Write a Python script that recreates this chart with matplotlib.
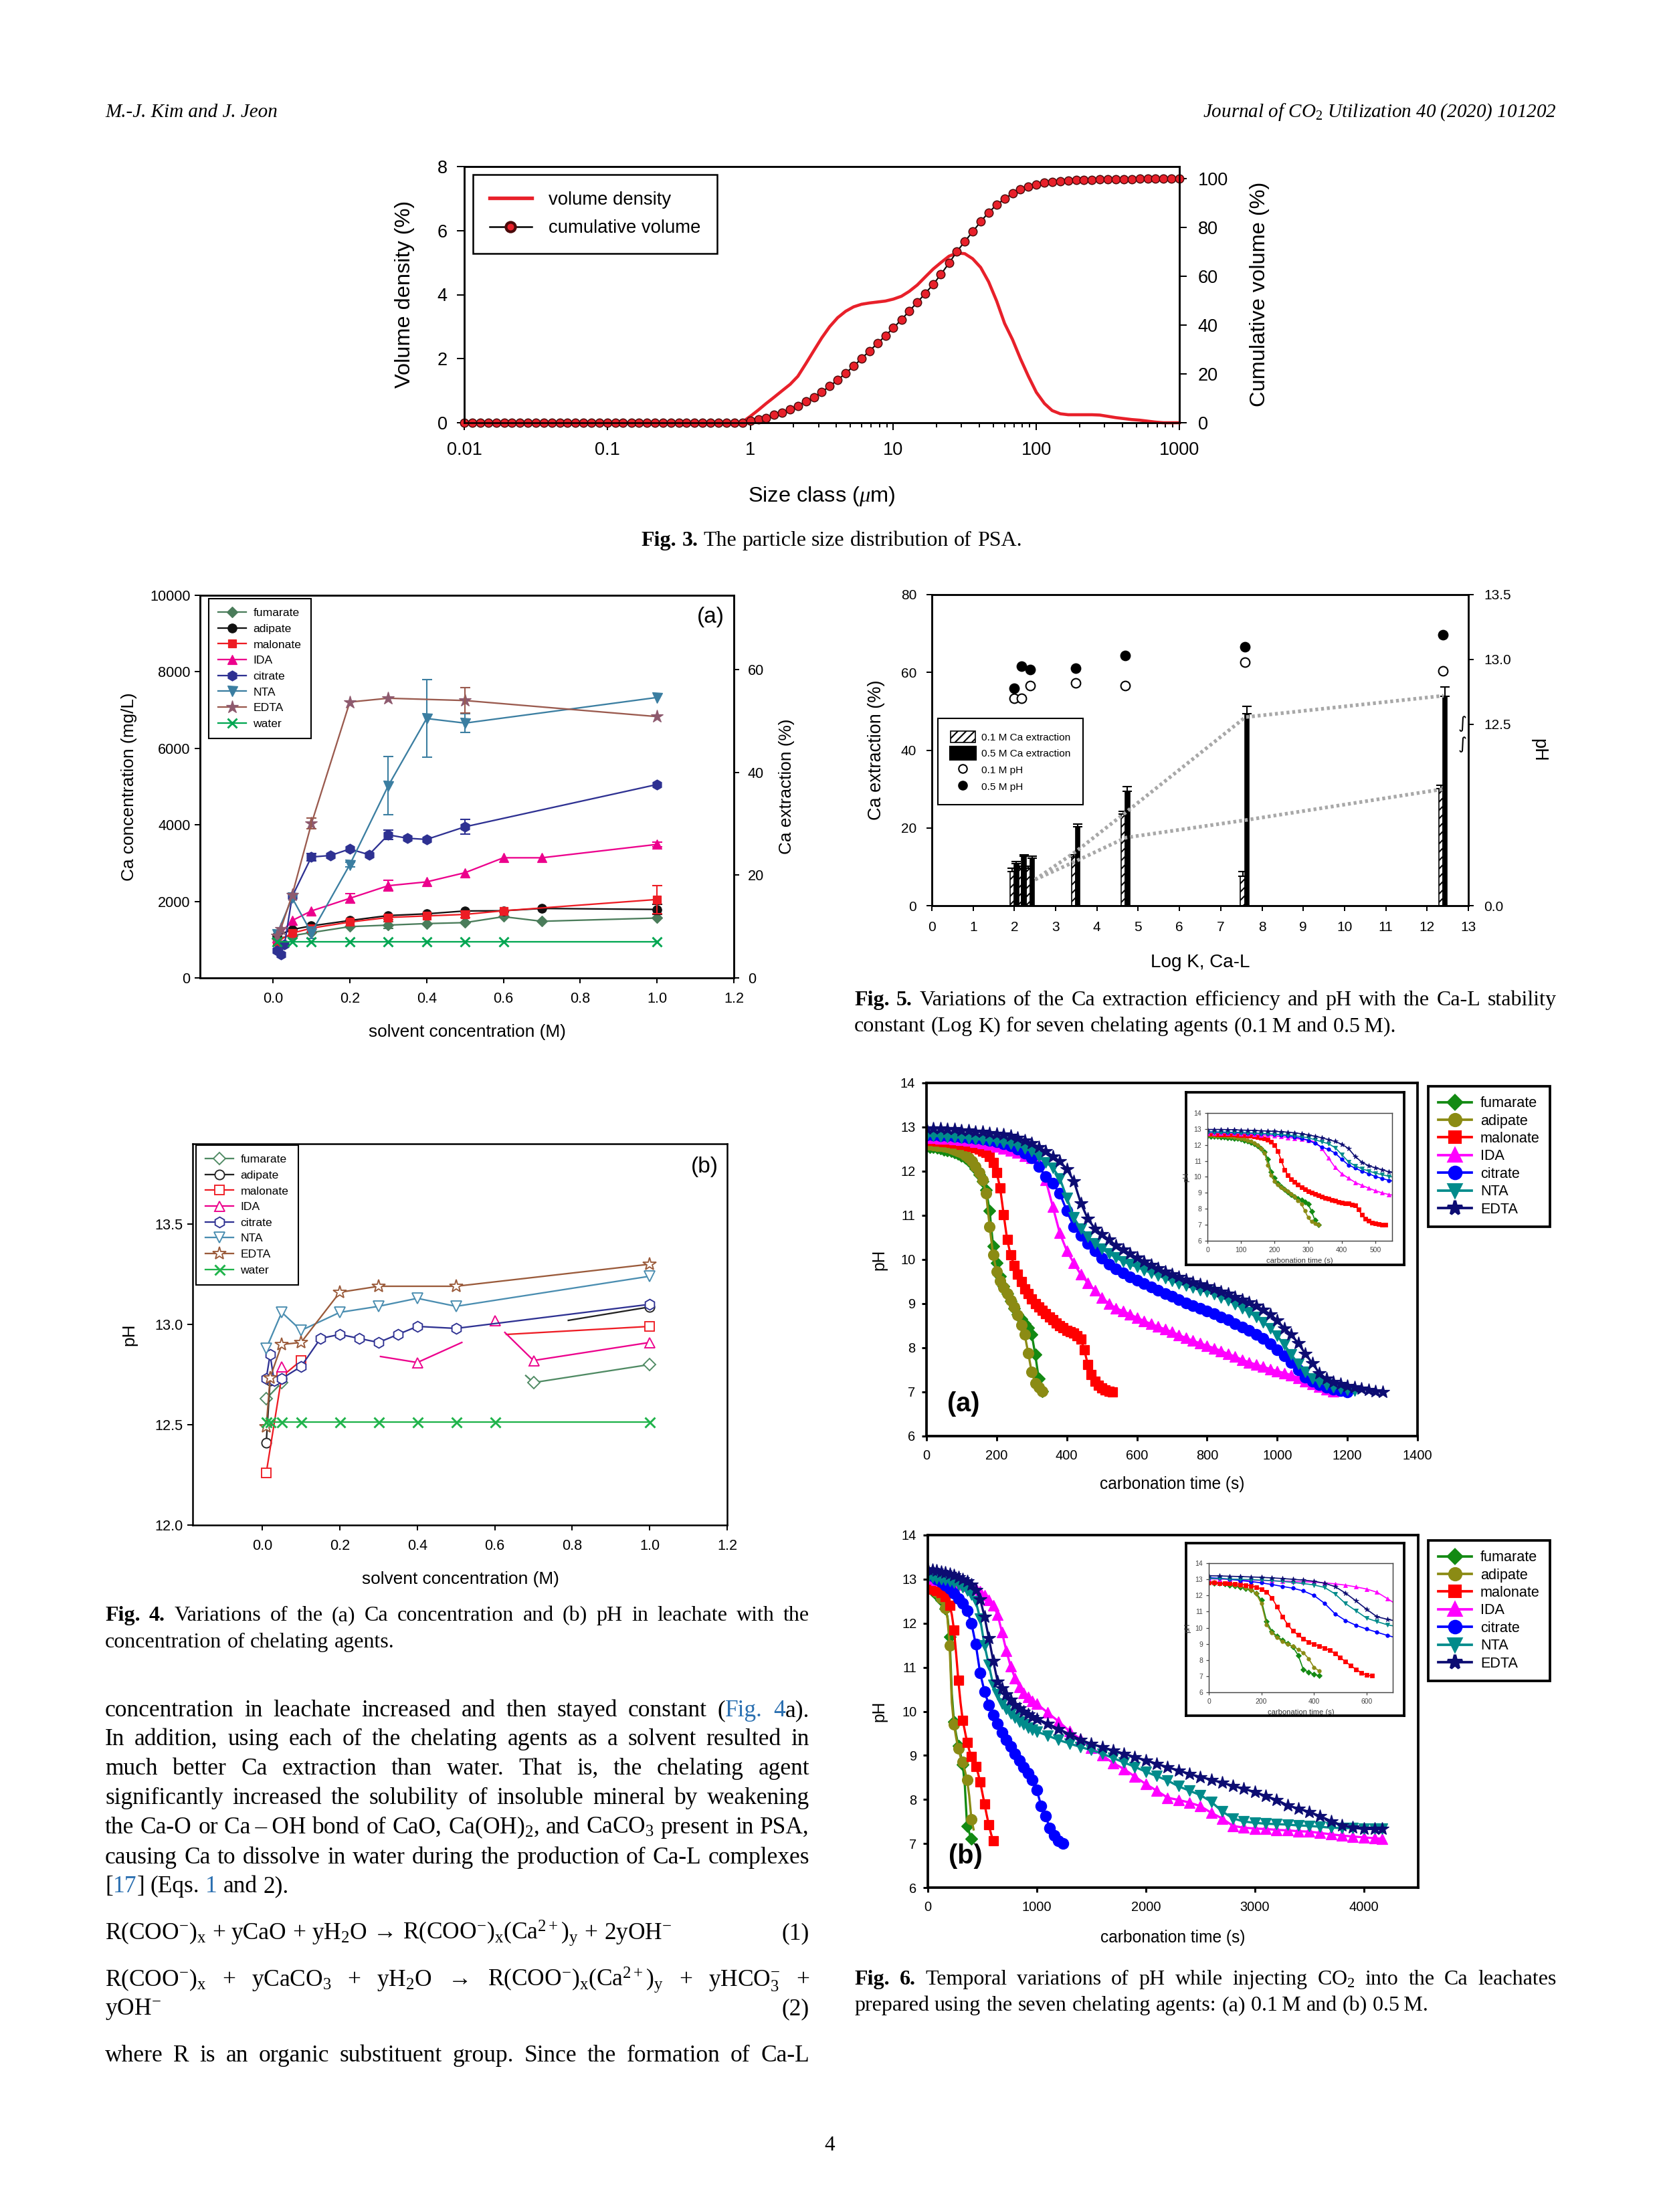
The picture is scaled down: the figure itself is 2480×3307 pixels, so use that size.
import numpy as np
import matplotlib
matplotlib.use("Agg")
import matplotlib.pyplot as plt
from matplotlib.lines import Line2D
from matplotlib.patches import Patch
from matplotlib.ticker import FixedLocator, NullFormatter

plt.rcParams['font.family'] = ['Liberation Sans', 'DejaVu Sans']
plt.rcParams['mathtext.fontset'] = 'custom'
plt.rcParams['mathtext.rm'] = 'Liberation Serif'
plt.rcParams['mathtext.it'] = 'Liberation Serif:italic'
plt.rcParams['hatch.linewidth'] = 0.5

# ---------------- Fig. 3 : particle size distribution ----------------
size_um = [0.01, 0.0114, 0.0129, 0.0147, 0.0167, 0.019, 0.0215, 0.0245, 0.0278, 0.0316, 0.0359, 0.0408,
           0.0464, 0.0528, 0.06, 0.0681, 0.0774, 0.088,
           0.1, 0.114, 0.129, 0.147, 0.167, 0.19, 0.215, 0.245, 0.278, 0.316, 0.359, 0.408, 0.464, 0.528,
           0.6, 0.681, 0.774, 0.88,
           1, 1.14, 1.29, 1.47, 1.67, 1.9, 2.15, 2.45, 2.78, 3.16, 3.59, 4.08, 4.64, 5.28, 6, 6.81, 7.74, 8.8,
           10, 11.4, 12.9, 14.7, 16.7, 19, 21.5, 24.5, 27.8, 31.6, 35.9, 40.8, 46.4, 52.8, 60, 68.1, 77.4, 88,
           100, 114, 129, 147, 167, 190, 215, 245, 278, 316, 359, 408, 464, 528, 600, 681, 774, 880, 1000]
vol_density = [0.0] * 35 + [0.02, 0.2, 0.4, 0.6, 0.8, 1.0, 1.2, 1.45, 1.85, 2.25, 2.65, 3.0, 3.28, 3.48,
                            3.62, 3.7, 3.74, 3.77, 3.8, 3.86, 3.95, 4.1, 4.3, 4.55, 4.8, 5.0, 5.2, 5.3, 5.28,
                            5.12, 4.85, 4.4, 3.8, 3.1, 2.6, 2.0, 1.45, 0.95, 0.6, 0.38, 0.28, 0.25, 0.25, 0.25,
                            0.25, 0.24, 0.2, 0.16, 0.13, 0.1, 0.08, 0.05, 0.02, 0, 0, 0]
cum_volume = [0.0] * 36 + [0.9, 1.3, 2.0, 3.3, 4.1, 5.5, 6.9, 8.8, 10.4, 12.6, 15.0, 17.5, 20.3, 23.2, 26.3,
                           29.4, 32.5, 35.6, 38.9, 42.2, 45.8, 49.3, 53.0, 56.7, 60.8, 65.4, 70.1, 74.3, 78.3,
                           82.4, 86.2, 89.3, 91.8, 94.0, 95.6, 96.8, 97.7, 98.4, 98.8, 99.1,
                           99.3, 99.4, 99.5, 99.6, 99.7, 99.8, 99.8, 99.9, 99.9, 100, 100, 100, 100, 100, 100]

# ---------------- Fig. 4 : leachate Ca and pH vs solvent concentration ----------------
agents4 = ['fumarate', 'adipate', 'malonate', 'IDA', 'citrate', 'NTA', 'EDTA', 'water']

fum_conc_x = [0.01, 0.05, 0.1, 0.2, 0.3, 0.4, 0.5, 0.6, 0.7, 1.0]
fum_conc = [1030, 1105, 1185, 1340, 1380, 1420, 1445, 1600, 1480, 1565]
fum_conc_err = [0, 0, 0, 0, 90, 0, 0, 0, 0, 0]
adi_conc_x = [0.01, 0.05, 0.1, 0.2, 0.3, 0.4, 0.5, 0.6, 0.7, 1.0]
adi_conc = [1100, 1265, 1360, 1500, 1630, 1675, 1750, 1755, 1815, 1790]
adi_conc_err = [0, 0, 0, 0, 0, 0, 0, 0, 0, 130]
mal_conc_x = [0.01, 0.05, 0.1, 0.2, 0.3, 0.4, 0.5, 0.6, 1.0]
mal_conc = [950, 1170, 1300, 1460, 1580, 1620, 1660, 1755, 2050]
mal_conc_err = [0, 0, 0, 0, 60, 0, 80, 0, 365]
ida_conc_x = [0.01, 0.05, 0.1, 0.2, 0.3, 0.4, 0.5, 0.6, 0.7, 1.0]
ida_conc = [1050, 1500, 1750, 2080, 2410, 2510, 2750, 3140, 3140, 3490]
ida_conc_err = [0, 0, 0, 125, 140, 0, 0, 0, 0, 60]
cit_conc_x = [0.01, 0.02, 0.03, 0.05, 0.1, 0.15, 0.2, 0.25, 0.3, 0.35, 0.4, 0.5, 1.0]
cit_conc = [710, 620, 870, 2130, 3160, 3200, 3370, 3220, 3740, 3650, 3620, 3950, 5055]
cit_conc_err = [0, 0, 0, 0, 100, 0, 0, 0, 125, 0, 0, 200, 0]
nta_conc_x = [0.01, 0.05, 0.1, 0.2, 0.3, 0.4, 0.5, 1.0]
nta_conc = [1145, 2090, 1180, 2960, 5020, 6780, 6660, 7330]
nta_conc_err = [0, 0, 150, 60, 760, 1015, 240, 0]
edta_conc_x = [0.01, 0.02, 0.05, 0.1, 0.2, 0.3, 0.5, 1.0]
edta_conc = [1100, 1270, 2170, 4030, 7210, 7310, 7250, 6830]
edta_conc_err = [0, 0, 0, 140, 0, 0, 335, 0]
wat_conc_x = [0.01, 0.05, 0.1, 0.2, 0.3, 0.4, 0.5, 0.6, 1.0]
wat_conc = [950, 950, 950, 950, 950, 950, 950, 950, 950]
wat_conc_err = [0, 0, 0, 0, 0, 0, 0, 0, 0]

nan = float('nan')
fum_ph_x = [0.01, 0.05, nan, 0.68, 0.7, 1.0]
fum_ph = [12.63, 12.71, nan, 12.745, 12.71, 12.80]
fum_ph_mark = [0, 1, 4, 5]
adi_ph_x = [0.01, 0.02, 0.05, nan, 0.79, 1.0]
adi_ph = [12.41, 12.72, 12.73, nan, 13.02, 13.087]
adi_ph_mark = [0, 1, 2, 5]
mal_ph_x = [0.01, 0.05, 0.1, nan, 0.63, 1.0]
mal_ph = [12.26, 12.74, 12.82, nan, 12.95, 12.99]
mal_ph_mark = [0, 1, 2, 5]
ida_ph_x = [0.05, nan, 0.305, 0.4, 0.515, nan, 0.6, nan, 0.626, 0.7, 1.0]
ida_ph = [12.79, nan, 12.84, 12.81, 12.91, nan, 13.02, nan, 12.96, 12.82, 12.91]
ida_ph_mark = [0, 3, 6, 9, 10]
cit_ph_x = [0.01, 0.02, 0.03, 0.05, 0.1, 0.15, 0.2, 0.25, 0.3, 0.35, 0.4, 0.5, 1.0]
cit_ph = [12.73, 12.85, 12.72, 12.73, 12.79, 12.93, 12.95, 12.93, 12.91, 12.95, 12.99, 12.98, 13.10]
cit_ph_mark = list(range(13))
nta_ph_x = [0.01, 0.05, 0.1, 0.2, 0.3, 0.4, 0.5, 1.0]
nta_ph = [12.88, 13.06, 12.97, 13.06, 13.09, 13.13, 13.09, 13.24]
nta_ph_mark = list(range(8))
edta_ph_x = [0.01, 0.02, 0.05, 0.1, 0.2, 0.3, 0.5, 1.0]
edta_ph = [12.49, 12.735, 12.90, 12.91, 13.16, 13.19, 13.19, 13.30]
edta_ph_mark = list(range(8))
wat_ph_x = [0.01, 0.02, 0.05, 0.1, 0.2, 0.3, 0.4, 0.5, 0.6, 1.0]
wat_ph = [12.515, 12.515, 12.515, 12.515, 12.515, 12.515, 12.515, 12.515, 12.515, 12.515]
wat_ph_mark = list(range(10))

# ---------------- Fig. 5 : extraction and pH vs log K ----------------
log_k = [2.0, 2.18, 2.38, 3.48, 4.69, 7.58, 12.38]
ext_01 = [8.8, 9.6, 9.6, 12.5, 23.6, 7.5, 30.1]
ext_01_err = [0.85, 0.6, 0.5, 0.6, 0.7, 1.3, 0.9]
ext_05 = [10.8, 12.8, 12.3, 20.3, 29.4, 49.3, 53.9]
ext_05_err = [0.5, 0.2, 0.5, 0.7, 1.2, 2.0, 2.3]
ph_01 = [12.70, 12.70, 12.80, 12.82, 12.80, 12.98, 12.91]
ph_05 = [12.78, 12.95, 12.92, 12.93, 13.03, 13.10, 13.19]
trend_x = [2.5, 3.5, 4.7, 7.6, 12.4]
trend_hi = [6.7, 14.0, 24.0, 48.5, 54.0]
trend_lo = [6.7, 11.5, 17.5, 22.0, 30.0]

# ---------------- Fig. 6 : pH during carbonation ----------------
agents6 = ['fumarate', 'adipate', 'malonate', 'IDA', 'citrate', 'NTA', 'EDTA']
# (a) 0.1 M ; fumarate/adipate/malonate every 10 s, others every 20 s
fum_a = [12.56, 12.55, 12.54, 12.53, 12.51, 12.49, 12.47, 12.45, 12.42, 12.39, 12.35, 12.3, 12.24, 12.16,
         12.06, 11.93, 11.78, 11.58, 11.1, 10.3, 9.92, 9.62, 9.4, 9.22, 9.06, 8.9, 8.76, 8.65, 8.55, 8.45,
         8.3, 7.85, 7.3, 7.02]
adi_a = [12.6, 12.6, 12.59, 12.58, 12.57, 12.56, 12.54, 12.52, 12.49, 12.46, 12.42, 12.37, 12.3, 12.22,
         12.1, 11.97, 11.8, 11.5, 10.75, 10.1, 9.73, 9.52, 9.36, 9.22, 9.08, 8.93, 8.75, 8.52, 8.3, 7.88,
         7.45, 7.2, 7.1, 7.02]
mal_a = [12.69, 12.69, 12.69, 12.68, 12.68, 12.67, 12.66, 12.65, 12.64, 12.63, 12.61, 12.6, 12.58, 12.56,
         12.53, 12.5, 12.46, 12.42, 12.33, 12.19, 11.97, 11.62, 11.02, 10.45, 10.1, 9.87, 9.67, 9.5, 9.34,
         9.22, 9.1, 9.0, 8.93, 8.85, 8.78, 8.7, 8.63, 8.56, 8.5, 8.45, 8.4, 8.36, 8.33, 8.28, 8.2, 7.95,
         7.62, 7.4, 7.25, 7.15, 7.09, 7.05, 7.02, 7.0]
ida_a = [12.76, 12.76, 12.75, 12.74, 12.73, 12.71, 12.69, 12.66, 12.63, 12.6, 12.56, 12.52, 12.47, 12.42,
         12.35, 12.3, 12.2, 11.8, 11.2, 10.6, 10.2, 9.92, 9.66, 9.47, 9.3, 9.14, 9.0, 8.9, 8.83, 8.76, 8.68,
         8.61, 8.54, 8.48, 8.42, 8.36, 8.29, 8.22, 8.16, 8.1, 8.05, 7.99, 7.93, 7.86, 7.8, 7.73, 7.67, 7.62,
         7.57, 7.52, 7.47, 7.43, 7.38, 7.32, 7.25, 7.18, 7.12, 7.06, 7.02]
cit_a = [12.82, 12.82, 12.81, 12.8, 12.79, 12.78, 12.76, 12.74, 12.72, 12.69, 12.66, 12.62, 12.57, 12.5,
         12.41, 12.3, 12.1, 11.88, 11.72, 11.5, 11.1, 10.75, 10.55, 10.36, 10.2, 10.03, 9.9, 9.79, 9.7, 9.6,
         9.53, 9.46, 9.38, 9.31, 9.23, 9.16, 9.09, 9.02, 8.95, 8.89, 8.83, 8.77, 8.7, 8.63, 8.55, 8.47, 8.4,
         8.31, 8.21, 8.09, 7.96, 7.82, 7.67, 7.5, 7.34, 7.24, 7.16, 7.1, 7.06, 7.03, 7.0]
nta_a = [12.8, 12.8, 12.79, 12.78, 12.77, 12.76, 12.75, 12.73, 12.71, 12.7, 12.68, 12.65, 12.62, 12.58,
         12.52, 12.45, 12.33, 12.2, 12.08, 11.84, 11.4, 10.95, 10.69, 10.51, 10.37, 10.24, 10.14, 10.04, 9.96,
         9.89, 9.83, 9.76, 9.7, 9.64, 9.57, 9.51, 9.46, 9.41, 9.36, 9.31, 9.27, 9.21, 9.14, 9.08, 8.99, 8.9,
         8.8, 8.7, 8.58, 8.44, 8.27, 8.07, 7.85, 7.63, 7.45, 7.31, 7.22, 7.16, 7.11, 7.08, 7.05, 7.03]
edta_a = [12.97, 12.97, 12.97, 12.96, 12.95, 12.93, 12.92, 12.9, 12.89, 12.87, 12.85, 12.83, 12.8, 12.76,
          12.7, 12.63, 12.55, 12.45, 12.34, 12.22, 12.05, 11.78, 11.28, 10.92, 10.7, 10.57, 10.45, 10.32,
          10.23, 10.13, 10.04, 9.96, 9.88, 9.8, 9.73, 9.67, 9.61, 9.54, 9.49, 9.44, 9.39, 9.34, 9.28, 9.22,
          9.15, 9.09, 9.03, 8.95, 8.86, 8.76, 8.62, 8.44, 8.3, 8.1, 7.87, 7.65, 7.43, 7.3, 7.23, 7.18, 7.14,
          7.11, 7.08, 7.05, 7.02, 7.0]
step_a = [10, 10, 10, 20, 20, 20, 20]

# (b) 0.5 M ; fumarate/adipate/malonate every 20 s, citrate every 40 s, others on t_long_b
fum_b = [12.79, 12.77, 12.74, 12.7, 12.65, 12.59, 12.52, 12.43, 12.33, 12.15, 11.7, 10.4, 9.76, 9.47, 9.22,
         9.03, 8.8, 8.3, 7.4, 7.25, 7.11, 7.03]
adi_b = [12.85, 12.83, 12.8, 12.76, 12.71, 12.65, 12.57, 12.47, 12.35, 12.12, 11.5, 10.2, 9.7, 9.4, 9.15,
         8.97, 8.85, 8.65, 8.45, 8.08, 7.55, 7.32]
mal_b = [12.78, 12.78, 12.77, 12.76, 12.74, 12.72, 12.69, 12.65, 12.6, 12.52, 12.4, 12.2, 11.85, 11.3, 10.7,
         10.2, 9.8, 9.55, 9.3, 9.12, 8.98, 8.87, 8.75, 8.6, 8.4, 8.15, 7.9, 7.65, 7.42, 7.22, 7.06, 7.02]
cit_b = [13.1, 13.07, 13.0, 12.93, 12.86, 12.78, 12.68, 12.56, 12.45, 12.28, 12.0, 11.52, 10.87, 10.45, 10.15,
         9.92, 9.72, 9.52, 9.35, 9.2, 9.04, 8.88, 8.74, 8.6, 8.44, 8.22, 7.85, 7.62, 7.35, 7.18, 7.07, 7.0]
t_long_b = list(range(0, 1000, 40)) + list(range(1000, 4200, 100)) + [4170]
ida_b = [13.03, 13.01, 12.99, 12.97, 12.95, 12.93, 12.91, 12.89, 12.87, 12.85, 12.83, 12.78, 12.72, 12.64,
         12.53, 12.4, 12.2, 11.8, 11.38, 11.02, 10.75, 10.56, 10.42, 10.32, 10.24,
         10.17, 9.97, 9.77, 9.55, 9.37, 9.18, 9.0, 8.83, 8.69, 8.52, 8.35, 8.2, 8.04, 7.99, 7.93, 7.85, 7.7,
         7.57, 7.4, 7.36, 7.34, 7.33, 7.31, 7.3, 7.28, 7.27, 7.24, 7.21, 7.18, 7.16, 7.14, 7.12, 7.11]
nta_b = [13.05, 13.04, 13.02, 13.0, 12.98, 12.95, 12.92, 12.87, 12.81, 12.74, 12.65, 12.5, 12.1, 11.5, 11.05,
         10.6, 10.38, 10.18, 10.06, 9.95, 9.86, 9.77, 9.7, 9.63, 9.58,
         9.54, 9.45, 9.35, 9.27, 9.19, 9.12, 9.04, 8.94, 8.84, 8.74, 8.63, 8.53, 8.43, 8.3, 8.2, 8.1, 7.95,
         7.73, 7.57, 7.5, 7.47, 7.45, 7.44, 7.43, 7.41, 7.4, 7.38, 7.36, 7.35, 7.35, 7.34, 7.33, 7.33]
edta_b = [13.22, 13.21, 13.19, 13.17, 13.15, 13.12, 13.09, 13.05, 13.0, 12.95, 12.88, 12.76, 12.55, 12.15,
          11.66, 11.15, 10.68, 10.52, 10.39, 10.26, 10.15, 10.07, 9.99, 9.93, 9.87,
          9.83, 9.72, 9.6, 9.48, 9.36, 9.26, 9.19, 9.11, 9.04, 8.96, 8.89, 8.81, 8.73, 8.66, 8.58, 8.51, 8.45,
          8.38, 8.31, 8.24, 8.17, 8.08, 7.99, 7.87, 7.79, 7.72, 7.62, 7.51, 7.41, 7.36, 7.33, 7.33, 7.33]

# ---------------- page layout helpers ----------------
W, H = 2480, 3307
fig = plt.figure(figsize=(W / 300, H / 300), dpi=300)
fig.patch.set_facecolor('white')
renderer = fig.canvas.get_renderer()
SERIF = ['Liberation Serif', 'DejaVu Serif']
BLUE = {'color': '#2a6fb0'}
BOLD = {'weight': 'bold'}
RIGHT_EDGE = 2327


def rect(x0, y0, x1, y1):
    return [x0 / W, 1 - y1 / H, (x1 - x0) / W, (y1 - y0) / H]


def fxy(x, y):
    return x / W, 1 - y / H


def label(x, y, s, size, rot=0, **kw):
    fig.text(x / W, 1 - y / H, s, fontsize=size, rotation=rot, ha='center', va='center', **kw)


def style(ax, lw=0.6, size=5, pad=3, length=2.5):
    for sp in ax.spines.values():
        sp.set_linewidth(lw)
    ax.tick_params(direction='out', width=lw * 0.8, length=length, labelsize=size, pad=pad)


def text_line(x, y, runs, size, width=None, center=None):
    toks, space = [], False
    for s, kw in runs:
        for i, p in enumerate(s.split(' ')):
            if i > 0:
                space = True
            if p == '':
                continue
            toks.append((p, kw, space))
            space = False
    widths = []
    for p, kw, _ in toks:
        t = fig.text(0, 0, p, fontsize=size, family=SERIF, **kw)
        widths.append(t.get_window_extent(renderer).width)
        t.remove()
    sp = 0.25 * size * 300 / 72
    nsp = sum(1 for tk in toks if tk[2])
    if width is not None and nsp:
        sp = max((width - sum(widths)) / nsp, 0.12 * size * 300 / 72)
    if center is not None:
        x = center - (sum(widths) + nsp * sp) / 2
    cx = x
    for (p, kw, before), w in zip(toks, widths):
        if before:
            cx += sp
        fig.text(cx / W, 1 - y / H, p, fontsize=size, family=SERIF, va='baseline', ha='left', **kw)
        cx += w


# ---------------- header ----------------
fig.text(157 / W, 1 - 175 / H, 'M.-J. Kim and J. Jeon', fontsize=7, family=SERIF, style='italic',
         va='baseline')
fig.text(RIGHT_EDGE / W, 1 - 175 / H, r'Journal of CO$_{2}$ Utilization 40 (2020) 101202', fontsize=7,
         family=SERIF, style='italic', va='baseline', ha='right')

# ---------------- Fig. 3 ----------------
RED3 = '#e8202a'
ax3 = fig.add_axes(rect(694, 249, 1763, 632))
ax3.plot(size_um, vol_density, color=RED3, lw=1.1, zorder=3, clip_on=False)
ax3.set_xscale('log')
ax3.set_xlim(0.01, 1000)
ax3.set_ylim(0, 8)
ax3.set_xticks([0.01, 0.1, 1, 10, 100, 1000])
ax3.set_xticklabels(['0.01', '0.1', '1', '10', '100', '1000'])
ax3.xaxis.set_minor_locator(FixedLocator([2, 3, 4, 5, 6, 7, 8, 9, 20, 30, 40, 50, 60, 70, 80, 90,
                                          200, 300, 400, 500, 600, 700, 800, 900]))
ax3.xaxis.set_minor_formatter(NullFormatter())
ax3.set_yticks([0, 2, 4, 6, 8])
ax3b = ax3.twinx()
ax3b.plot(size_um, cum_volume, color='black', lw=0.5, marker='o', ms=3.0, mfc=RED3, mec='#4a0a0a',
          mew=0.35, clip_on=False)
ax3b.set_ylim(0, 105)
ax3b.set_yticks([0, 20, 40, 60, 80, 100])
for a in (ax3, ax3b):
    style(a, lw=0.6, size=6.5, pad=4, length=2.6)
ax3.tick_params(axis='x', which='minor', direction='out', length=1.6, width=0.45)
ax3.tick_params(axis='y', pad=3.5)
leg = ax3b.legend([Line2D([], [], color=RED3, lw=1.3),
                   Line2D([], [], color='black', lw=0.6, marker='o', ms=3.4, mfc=RED3, mec='#4a0a0a')],
                  ['volume density', 'cumulative volume'], loc='upper left', bbox_to_anchor=fxy(707, 261),
                  bbox_transform=fig.transFigure, fontsize=6.6, fancybox=False, edgecolor='black',
                  framealpha=1, borderaxespad=0, handlelength=2.3, borderpad=0.9, labelspacing=0.6,
                  handletextpad=0.9)
leg.get_frame().set_linewidth(0.6)
label(605, 440, 'Volume density (%)', 7.8, 90)
label(1883, 440, 'Cumulative volume (%)', 7.8, 90)
label(1228, 742, r'Size class ($\mu$m)', 7.8)
text_line(0, 816, [('Fig. 3.', BOLD), (' The particle size distribution of PSA.', {})], 7.7, center=1243)

# ---------------- Fig. 4 ----------------
col4a = ['#4a7c5a', '#111111', '#ed1c24', '#ec008c', '#2e3192', '#3b7ea1', '#8e5a6e', '#00a651']
line4a = ['#4a7c5a', '#111111', '#ed1c24', '#ec008c', '#2e3192', '#3b7ea1', '#9a5a4e', '#00a651']
mk4 = ['D', 'o', 's', '^', 'h', 'v', '*', 'x']
ms4 = [2.8, 3.2, 3.0, 3.4, 3.6, 3.6, 4.6, 3.4]
conc_sets = [(fum_conc_x, fum_conc, fum_conc_err), (adi_conc_x, adi_conc, adi_conc_err),
             (mal_conc_x, mal_conc, mal_conc_err), (ida_conc_x, ida_conc, ida_conc_err),
             (cit_conc_x, cit_conc, cit_conc_err), (nta_conc_x, nta_conc, nta_conc_err),
             (edta_conc_x, edta_conc, edta_conc_err), (wat_conc_x, wat_conc, wat_conc_err)]

ax4a = fig.add_axes(rect(299, 890, 1097, 1462))
for i, (xs, ys, es) in enumerate(conc_sets):
    ax4a.plot(xs, ys, color=line4a[i], lw=0.55, marker=mk4[i], ms=ms4[i], mfc=col4a[i], mec=col4a[i],
              mew=0.7 if mk4[i] == 'x' else 0.3, clip_on=False)
    ex = [x for x, e in zip(xs, es) if e > 0]
    ey = [y for y, e in zip(ys, es) if e > 0]
    ee = [e for e in es if e > 0]
    if ee:
        ax4a.errorbar(ex, ey, yerr=ee, fmt='none', ecolor=line4a[i], elinewidth=0.5, capsize=1.8,
                      capthick=0.5)
ax4a.set_xlim(-0.19, 1.2)
ax4a.set_ylim(0, 10000)
ax4a.set_xticks([0.0, 0.2, 0.4, 0.6, 0.8, 1.0, 1.2])
ax4a.set_xticklabels(['0.0', '0.2', '0.4', '0.6', '0.8', '1.0', '1.2'])
ax4a.set_yticks([0, 2000, 4000, 6000, 8000, 10000])
ax4ar = ax4a.twinx()
ax4ar.set_ylim(0, 74.5)
ax4ar.set_yticks([0, 20, 40, 60])
for a in (ax4a, ax4ar):
    style(a, lw=0.6, size=5.2, pad=3, length=2.0)
ax4a.tick_params(axis='y', pad=1.5)
handles4a = [Line2D([], [], color=line4a[i], lw=0.55, marker=mk4[i], ms=ms4[i], mfc=col4a[i], mec=col4a[i],
                    mew=0.7 if mk4[i] == 'x' else 0.3) for i in range(8)]
leg = ax4ar.legend(handles4a, agents4, loc='upper left', bbox_to_anchor=fxy(312, 895),
                   bbox_transform=fig.transFigure, fontsize=4.2, fancybox=False, edgecolor='black',
                   framealpha=1, borderaxespad=0, handlelength=2.4, borderpad=0.8, labelspacing=0.48,
                   handletextpad=0.6)
leg.get_frame().set_linewidth(0.5)
fig.text(1062 / W, 1 - 923 / H, '(a)', fontsize=8, ha='center', va='center')
label(193, 1176, 'Ca concentration (mg/L)', 6.3, 90)
label(1176, 1176, 'Ca extraction (%)', 6.3, 90)
label(698, 1543, 'solvent concentration (M)', 6.3)

col4b = ['#4f8a63', '#222222', '#ee1c24', '#ec008c', '#2e3192', '#4a8db0', '#9a5a3a', '#1fb34a']
ph_sets = [(fum_ph_x, fum_ph, fum_ph_mark), (adi_ph_x, adi_ph, adi_ph_mark), (mal_ph_x, mal_ph, mal_ph_mark),
           (ida_ph_x, ida_ph, ida_ph_mark), (cit_ph_x, cit_ph, cit_ph_mark), (nta_ph_x, nta_ph, nta_ph_mark),
           (edta_ph_x, edta_ph, edta_ph_mark), (wat_ph_x, wat_ph, wat_ph_mark)]
ax4b = fig.add_axes(rect(288, 1710, 1087, 2280))
for i, (xs, ys, marks) in enumerate(ph_sets):
    ax4b.plot(xs, ys, color=col4b[i], lw=0.55, marker=mk4[i], ms=ms4[i] + 0.2,
              mfc='white' if mk4[i] != 'x' else col4b[i],
              mec=col4b[i], mew=0.45 if mk4[i] != 'x' else 0.7, markevery=marks)
ax4b.set_xlim(-0.18, 1.2)
ax4b.set_ylim(12.0, 13.9)
ax4b.set_xticks([0.0, 0.2, 0.4, 0.6, 0.8, 1.0, 1.2])
ax4b.set_xticklabels(['0.0', '0.2', '0.4', '0.6', '0.8', '1.0', '1.2'])
ax4b.set_yticks([12.0, 12.5, 13.0, 13.5])
ax4b.set_yticklabels(['12.0', '12.5', '13.0', '13.5'])
style(ax4b, lw=0.6, size=5.2, pad=3, length=2.0)
ax4b.tick_params(axis='y', pad=1.5)
handles4b = [Line2D([], [], color=col4b[i], lw=0.55, marker=mk4[i], ms=ms4[i] + 0.2,
                    mfc='white' if mk4[i] != 'x' else col4b[i], mec=col4b[i],
                    mew=0.45 if mk4[i] != 'x' else 0.7) for i in range(8)]
leg = ax4b.legend(handles4b, agents4, loc='upper left', bbox_to_anchor=fxy(293, 1712),
                  bbox_transform=fig.transFigure, fontsize=4.2, fancybox=False, edgecolor='black',
                  framealpha=1, borderaxespad=0, handlelength=2.4, borderpad=0.8, labelspacing=0.48,
                  handletextpad=0.6)
leg.get_frame().set_linewidth(0.5)
fig.text(1053 / W, 1 - 1744 / H, '(b)', fontsize=8, ha='center', va='center')
label(193, 1995, 'pH', 6.3, 90)
label(688, 2361, 'solvent concentration (M)', 6.3)

text_line(157, 2423, [('Fig. 4.', BOLD), (' Variations of the (a) Ca concentration and (b) pH in leachate with the', {})],
          7.7, width=1053)
text_line(157, 2463, [('concentration of chelating agents.', {})], 7.7)

# ---------------- Fig. 5 ----------------
ax5 = fig.add_axes(rect(1393, 889, 2195, 1354))
lk = np.array(log_k)
ax5.bar(lk - 0.05, ext_01, width=0.1, color='white', edgecolor='black', hatch='////////', linewidth=0.4)
ax5.bar(lk + 0.05, ext_05, width=0.1, color='black', edgecolor='black', linewidth=0.4)
ax5.errorbar(lk - 0.05, ext_01, yerr=[np.zeros(len(ext_01)), ext_01_err], fmt='none', ecolor='black',
             elinewidth=0.5, capsize=1.7, capthick=0.5)
ax5.errorbar(lk + 0.05, ext_05, yerr=[np.zeros(len(ext_05)), ext_05_err], fmt='none', ecolor='black',
             elinewidth=0.5, capsize=1.7, capthick=0.5)
ax5.plot(trend_x, trend_hi, ls=(0, (0.8, 0.8)), color='#a8a8a8', lw=1.3)
ax5.plot(trend_x, trend_lo, ls=(0, (0.8, 0.8)), color='#a8a8a8', lw=1.3)
ax5.set_xlim(0, 13)
ax5.set_ylim(0, 80)
ax5.set_xticks(range(14))
ax5.set_yticks([0, 20, 40, 60, 80])
ax5r = ax5.twinx()
ax5r.plot(log_k, ph_01, 'o', ms=3.3, mfc='white', mec='black', mew=0.5)
ax5r.plot(log_k, ph_05, 'o', ms=3.3, mfc='black', mec='black', mew=0.5)
ax5r.set_ylim(11.1, 13.5)
ax5r.set_yticks([11.1, 12.5, 13.0, 13.5])
ax5r.set_yticklabels(['0.0', '12.5', '13.0', '13.5'])
for a in (ax5, ax5r):
    style(a, lw=0.6, size=5, pad=3.5, length=2.0)
handles5 = [Patch(facecolor='white', edgecolor='black', hatch='////////', linewidth=0.4),
            Patch(facecolor='black', edgecolor='black'),
            Line2D([], [], ls='none', marker='o', ms=3, mfc='white', mec='black', mew=0.5),
            Line2D([], [], ls='none', marker='o', ms=3, mfc='black', mec='black', mew=0.5)]
leg = ax5r.legend(handles5, ['0.1 M Ca extraction', '0.5 M Ca extraction', '0.1 M pH', '0.5 M pH'],
                  loc='upper left', bbox_to_anchor=fxy(1402, 1074), bbox_transform=fig.transFigure,
                  fontsize=3.7, fancybox=False, edgecolor='black', framealpha=1, borderaxespad=0,
                  handlelength=2.4, handleheight=1.4, borderpad=1.2, labelspacing=0.45, handletextpad=0.6)
leg.get_frame().set_linewidth(0.5)
fig.text(2186 / W, 1 - 1082 / H, '\u222b', fontsize=6, ha='center', va='center', family='DejaVu Sans')
fig.text(2186 / W, 1 - 1113 / H, '\u222b', fontsize=6, ha='center', va='center', family='DejaVu Sans')
label(1310, 1121, 'Ca extraction (%)', 6.5, 90)
label(2300, 1121, 'pH', 6.5, 270)
label(1794, 1439, 'Log K, Ca-L', 6.7)

text_line(1277, 1503, [('Fig. 5.', BOLD),
                       (' Variations of the Ca extraction efficiency and pH with the Ca-L stability', {})],
          7.7, width=RIGHT_EDGE - 1277)
text_line(1277, 1542, [('constant (Log K) for seven chelating agents (0.1\u2009M and 0.5\u2009M).', {})], 7.7)

# ---------------- Fig. 6 ----------------
col6 = ['#138a13', '#8b8b14', '#ff0000', '#ff00ff', '#0000ff', '#008b8b', '#0c0c72']
mk6 = ['D', 'o', 's', '^', 'o', 'v', '*']
ms6 = [3.0, 3.8, 3.4, 3.9, 3.9, 3.9, 5.0]
ph_a = [fum_a, adi_a, mal_a, ida_a, cit_a, nta_a, edta_a]
time_a = [np.arange(len(p)) * s for p, s in zip(ph_a, step_a)]
ph_b = [fum_b, adi_b, mal_b, ida_b, cit_b, nta_b, edta_b]
time_b = [np.arange(len(fum_b)) * 20, np.arange(len(adi_b)) * 20, np.arange(len(mal_b)) * 20, t_long_b,
          np.arange(len(cit_b)) * 40, t_long_b, t_long_b]


def panel6(main_box, frame_box, inset_box, times, phs, xmax, xticks, in_xmax, in_xticks, tag, leg_xy, every):
    ax = fig.add_axes(rect(*main_box))
    for i in range(7):
        ax.plot(times[i], phs[i], color=col6[i], lw=0.8, marker=mk6[i], ms=ms6[i], mfc=col6[i], mec=col6[i],
                mew=0.3, markevery=every[i])
    ax.set_xlim(0, xmax)
    ax.set_ylim(6, 14)
    ax.set_xticks(xticks)
    ax.set_yticks(range(6, 15))
    style(ax, lw=0.9, size=4.8, pad=3.2, length=1.6)
    ax.tick_params(axis='y', pad=2.4)
    ax.text(0.042, 0.09, tag, transform=ax.transAxes, fontsize=9.5, weight='bold', va='center')
    hs = [Line2D([], [], color=col6[i], lw=0.9, marker=mk6[i], ms=ms6[i] + 0.3, mfc=col6[i], mec=col6[i])
          for i in range(7)]
    lg = ax.legend(hs, agents6, loc='upper left', bbox_to_anchor=fxy(*leg_xy), bbox_transform=fig.transFigure,
                   fontsize=5.2, fancybox=False, edgecolor='black', framealpha=1, borderaxespad=0,
                   handlelength=2.3, borderpad=0.7, labelspacing=0.25, handletextpad=0.6)
    lg.get_frame().set_linewidth(0.9)
    fr = fig.add_axes(rect(*frame_box))
    fr.set_xticks([])
    fr.set_yticks([])
    fr.set_facecolor('white')
    for sp in fr.spines.values():
        sp.set_linewidth(0.9)
    ins = fig.add_axes(rect(*inset_box))
    for i in range(7):
        ins.plot(times[i], phs[i], color=col6[i], lw=0.4, marker=mk6[i], ms=1.3 if mk6[i] != '*' else 1.8,
                 mfc=col6[i], mec=col6[i], mew=0.2)
    ins.set_xlim(0, in_xmax)
    ins.set_ylim(6, 14)
    ins.set_xticks(in_xticks)
    ins.set_yticks(range(6, 15))
    for sp in ins.spines.values():
        sp.set_linewidth(0.35)
        sp.set_color('#444444')
    ins.tick_params(direction='out', length=0.9, width=0.3, labelsize=2.5, pad=1.2, colors='#444444')
    ins.set_xlabel('carbonation time (s)', fontsize=2.7, labelpad=1.5, color='#333333')
    ins.set_ylabel('pH', fontsize=2.7, labelpad=1.5, color='#333333')
    return ax


panel6((1385, 1619, 2119, 2147), (1773, 1633, 2099, 1891), (1805, 1664, 2081, 1855), time_a, ph_a,
       1400, [0, 200, 400, 600, 800, 1000, 1200, 1400], 550, [0, 100, 200, 300, 400, 500], '(a)',
       (2135, 1624), [1, 1, 1, 1, 1, 1, 1])
label(1314, 1883, 'pH', 5.9, 90)
label(1752, 2219, 'carbonation time (s)', 5.9)

panel6((1387, 2295, 2120, 2822), (1773, 2307, 2099, 2565), (1807, 2337, 2082, 2530), time_b, ph_b,
       4500, [0, 1000, 2000, 3000, 4000], 700, [0, 200, 400, 600], '(b)',
       (2135, 2303), [2, 2, 2, 1, 1, 1, 1])
label(1314, 2558, 'pH', 5.9, 90)
label(1753, 2897, 'carbonation time (s)', 5.9)

text_line(1277, 2967, [('Fig. 6.', BOLD),
                       (' Temporal variations of pH while injecting CO$_{2}$ into the Ca leachates', {})],
          7.7, width=RIGHT_EDGE - 1277)
text_line(1277, 3006, [('prepared using the seven chelating agents: (a) 0.1\u2009M and (b) 0.5\u2009M.', {})], 7.7)

# ---------------- body text (left column) ----------------
BW = 1053
BS = 8.5
text_line(157, 2566, [('concentration in leachate increased and then stayed constant (', {}), ('Fig. 4', BLUE),
                      ('a).', {})], BS, width=BW)
text_line(157, 2609, [('In addition, using each of the chelating agents as a solvent resulted in', {})], BS, width=BW)
text_line(157, 2653, [('much better Ca extraction than water. That is, the chelating agent', {})], BS, width=BW)
text_line(157, 2697, [('significantly increased the solubility of insoluble mineral by weakening', {})], BS, width=BW)
text_line(157, 2741, [('the Ca-O or Ca\u2009\u2013\u2009OH bond of CaO, Ca(OH)$_{2}$, and CaCO$_{3}$ present in PSA,', {})],
          BS, width=BW)
text_line(157, 2786, [('causing Ca to dissolve in water during the production of Ca-L complexes', {})], BS, width=BW)
text_line(157, 2829, [('[', {}), ('17', BLUE), ('] (Eqs. ', {}), ('1', BLUE), (' and 2).', {})], BS)

text_line(157, 2899, [('R(COO$^{-}$)$_{\\mathrm{x}}$ + yCaO + yH$_{2}$O \u2192 R(COO$^{-}$)$_{\\mathrm{x}}$'
                       '(Ca$^{2+}$)$_{\\mathrm{y}}$ + 2yOH$^{-}$', {})], BS)
fig.text(1210 / W, 1 - 2899 / H, '(1)', fontsize=BS, family=SERIF, ha='right', va='baseline')
text_line(157, 2969, [('R(COO$^{-}$)$_{\\mathrm{x}}$ + yCaCO$_{3}$ + yH$_{2}$O \u2192 R(COO$^{-}$)$_{\\mathrm{x}}$'
                       '(Ca$^{2+}$)$_{\\mathrm{y}}$ + yHCO$_{3}^{-}$ +', {})], BS, width=BW)
text_line(157, 3012, [('yOH$^{-}$', {})], BS)
fig.text(1210 / W, 1 - 3012 / H, '(2)', fontsize=BS, family=SERIF, ha='right', va='baseline')
text_line(157, 3082, [('where R is an organic substituent group. Since the formation of Ca-L', {})], BS, width=BW)

fig.text(1240 / W, 1 - 3215 / H, '4', fontsize=7.5, family=SERIF, ha='center', va='baseline')

fig.savefig('out.png', dpi=300, facecolor='white')
